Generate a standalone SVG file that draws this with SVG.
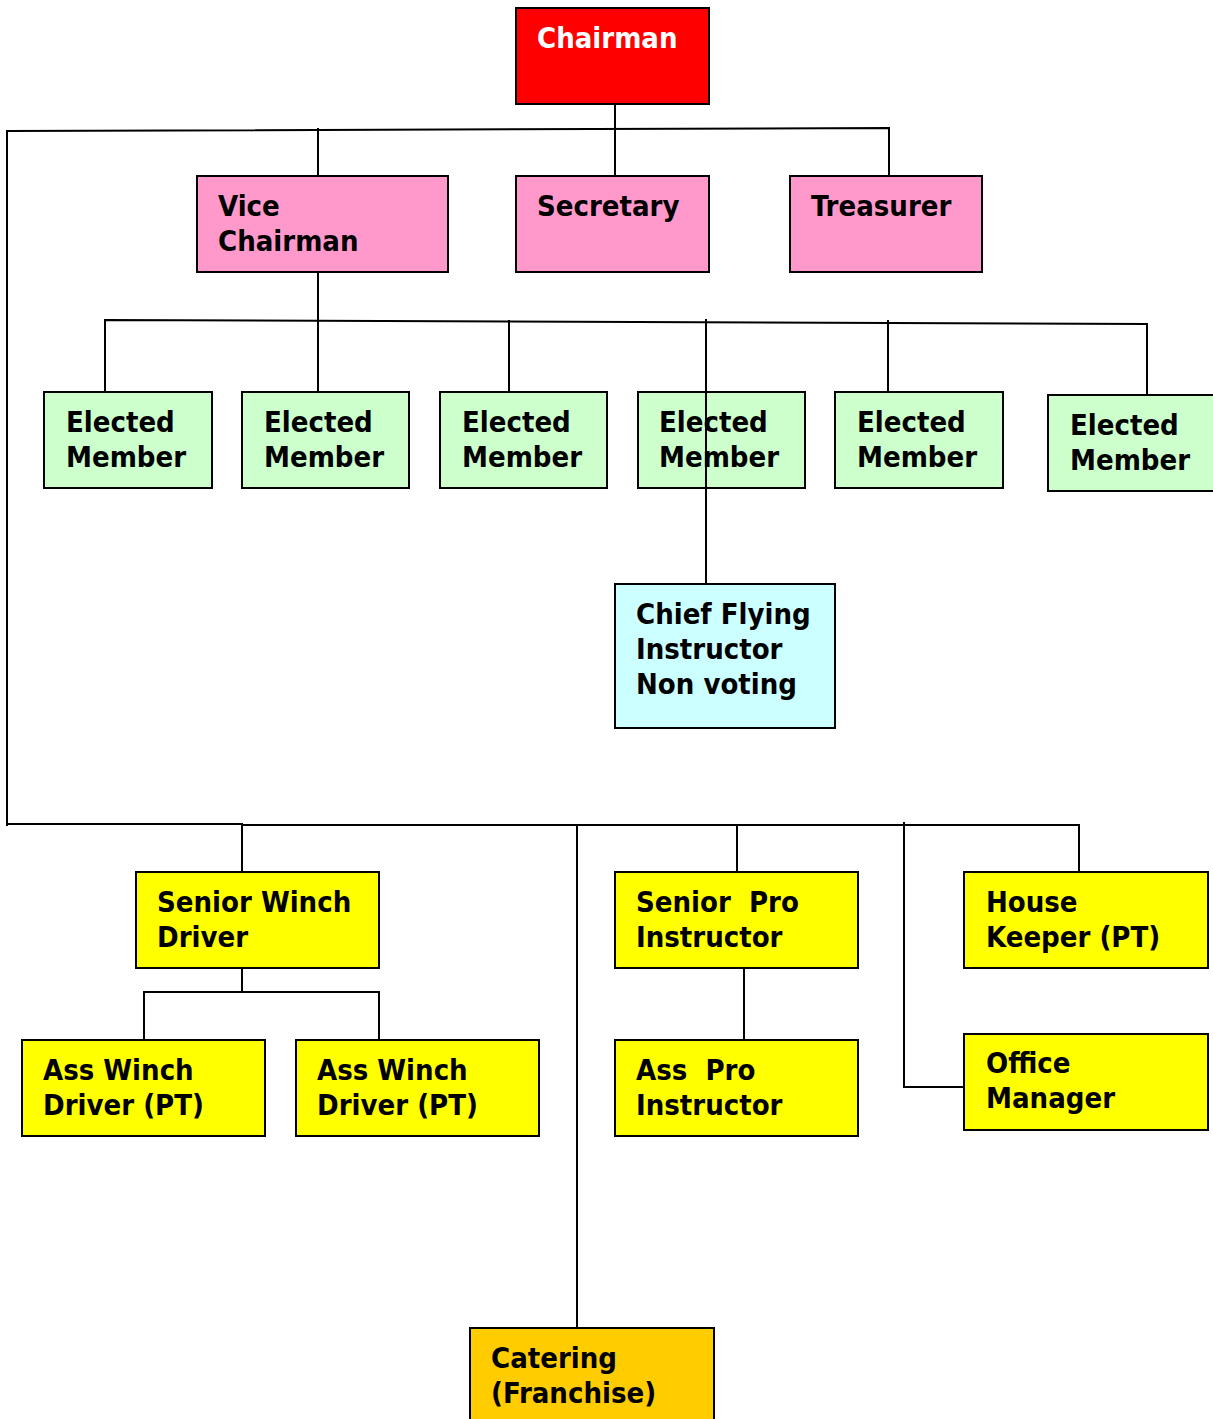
<svg xmlns="http://www.w3.org/2000/svg" width="1213" height="1419" viewBox="0 0 1213 1419">
<style>
.box{stroke:#000;stroke-width:2}
.red{fill:#FF0000}.pink{fill:#FF99CC}.green{fill:#CCFFCC}.cyan{fill:#CCFFFF}.yellow{fill:#FFFF00}.orange{fill:#FFCC00}
text{font-family:"DejaVu Sans Condensed","DejaVu Sans",sans-serif;font-weight:bold;font-size:29px;fill:#000}
.w{fill:#fff}
.conn{fill:none;stroke:#000;stroke-width:2}
</style>
<rect width="1213" height="1419" fill="#fff"/>
<g id="connectors" class="conn">
<line x1="615" y1="104" x2="615" y2="176"/>
<polyline points="7,826 7,131 889,128 889,176"/>
<line x1="318" y1="128" x2="318" y2="392"/>
<polyline points="105,392 105,320 1147,324 1147,395"/>
<line x1="509" y1="320" x2="509" y2="392"/>
<line x1="706" y1="319" x2="706" y2="584"/>
<line x1="888" y1="320" x2="888" y2="392"/>
<polyline points="7,824 242,824 242,872"/>
<polyline points="242,825 1079,825 1079,872"/>
<line x1="577" y1="825" x2="577" y2="1328"/>
<line x1="737" y1="825" x2="737" y2="872"/>
<polyline points="904,822 904,1087 964,1087"/>
<polyline points="242,968 242,992"/>
<polyline points="144,1040 144,992 379,992 379,1040"/>
<line x1="744" y1="968" x2="744" y2="1040"/>
</g>
<g id="chairman"><rect class="box red" x="516" y="8" width="193" height="96"/><text class="w" x="537" y="48">Chairman</text></g>
<g id="vice-chairman"><rect class="box pink" x="197" y="176" width="251" height="96"/><text x="218" y="216">Vice</text><text x="218" y="251">Chairman</text></g>
<g id="secretary"><rect class="box pink" x="516" y="176" width="193" height="96"/><text x="537" y="216">Secretary</text></g>
<g id="treasurer"><rect class="box pink" x="790" y="176" width="192" height="96"/><text x="811" y="216">Treasurer</text></g>
<g id="elected-1"><rect class="box green" x="44" y="392" width="168" height="96"/><text x="66" y="432">Elected</text><text x="66" y="467">Member</text></g>
<g id="elected-2"><rect class="box green" x="242" y="392" width="167" height="96"/><text x="264" y="432">Elected</text><text x="264" y="467">Member</text></g>
<g id="elected-3"><rect class="box green" x="440" y="392" width="167" height="96"/><text x="462" y="432">Elected</text><text x="462" y="467">Member</text></g>
<g id="elected-4"><rect class="box green" x="638" y="392" width="167" height="96"/><text x="659" y="432">Elected</text><text x="659" y="467">Member</text></g>
<g id="elected-5"><rect class="box green" x="835" y="392" width="168" height="96"/><text x="857" y="432">Elected</text><text x="857" y="467">Member</text></g>
<g id="elected-6"><rect class="box green" x="1048" y="395" width="170" height="96"/><text x="1070" y="435">Elected</text><text x="1070" y="470">Member</text></g>
<line x1="706" y1="392" x2="706" y2="488" stroke="#000" stroke-width="2"/>
<g id="chief-flying-instructor"><rect class="box cyan" x="615" y="584" width="220" height="144"/><text x="636" y="624">Chief Flying</text><text x="636" y="659">Instructor</text><text x="636" y="694">Non voting</text></g>
<g id="senior-winch-driver"><rect class="box yellow" x="136" y="872" width="243" height="96"/><text x="157" y="912">Senior Winch</text><text x="157" y="947">Driver</text></g>
<g id="ass-winch-driver-1"><rect class="box yellow" x="22" y="1040" width="243" height="96"/><text x="43" y="1080">Ass Winch</text><text x="43" y="1115">Driver (PT)</text></g>
<g id="ass-winch-driver-2"><rect class="box yellow" x="296" y="1040" width="243" height="96"/><text x="317" y="1080">Ass Winch</text><text x="317" y="1115">Driver (PT)</text></g>
<g id="senior-pro-instructor"><rect class="box yellow" x="615" y="872" width="243" height="96"/><text x="636" y="912" xml:space="preserve">Senior  Pro</text><text x="636" y="947">Instructor</text></g>
<g id="ass-pro-instructor"><rect class="box yellow" x="615" y="1040" width="243" height="96"/><text x="636" y="1080" xml:space="preserve">Ass  Pro</text><text x="636" y="1115">Instructor</text></g>
<g id="house-keeper"><rect class="box yellow" x="964" y="872" width="244" height="96"/><text x="986" y="912">House</text><text x="986" y="947">Keeper (PT)</text></g>
<g id="office-manager"><rect class="box yellow" x="964" y="1034" width="244" height="96"/><text x="986" y="1073">Office</text><text x="986" y="1108">Manager</text></g>
<g id="catering"><rect class="box orange" x="470" y="1328" width="244" height="100"/><text x="491" y="1368">Catering</text><text x="491" y="1403">(Franchise)</text></g>
</svg>
